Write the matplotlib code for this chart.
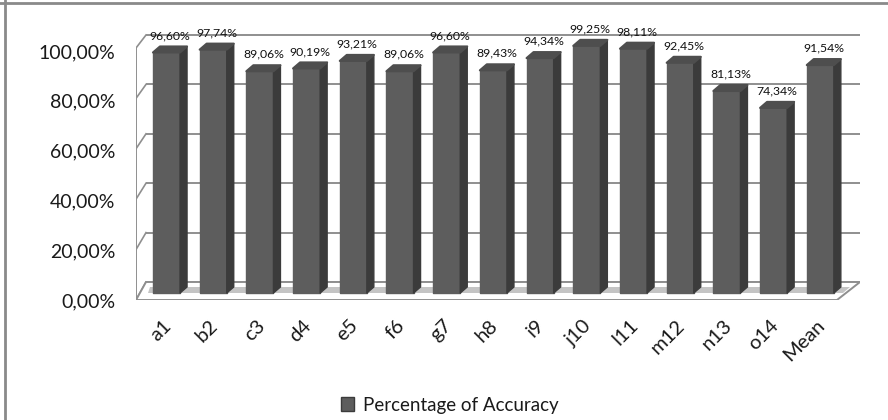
import matplotlib
matplotlib.use("Agg")
import matplotlib.pyplot as plt
from matplotlib.patches import Polygon, Patch
from matplotlib.lines import Line2D
from matplotlib.transforms import ScaledTranslation

plt.rcParams['font.family'] = ['Lato', 'DejaVu Sans']

categories = ['a1', 'b2', 'c3', 'd4', 'e5', 'f6', 'g7', 'h8', 'i9', 'j10',
              'l11', 'm12', 'n13', 'o14', 'Mean']
accuracy = [96.60, 97.74, 89.06, 90.19, 93.21, 89.06, 96.60, 89.43, 94.34,
            99.25, 98.11, 92.45, 81.13, 74.34, 91.54]
y_ticks = [0, 20, 40, 60, 80, 100]
series_name = 'Percentage of Accuracy'


def pct(v):
    return f"{v:.2f}".replace('.', ',') + '%'


W, H = 888, 420
fig = plt.figure(figsize=(W / 100, H / 100), dpi=100)

# layout of the pseudo-3D box, in pixels (y measured from the top)
STEP = 46.7      # distance between bar centres
C0 = 166.5       # centre of the first bar
Y0 = 293         # baseline of the bar fronts
K = 2.49         # pixels per percentage point
FRONT_L, FRONT_R, FRONT_Y0, FRONT_K = 136, 837, 300, 2.52
BACK_L, BACK_R, BACK_Y0, BACK_K = 146, 860, 282, 2.47
AX_TOP = 30

ax = fig.add_axes([FRONT_L / W, 1 - FRONT_Y0 / H,
                   (BACK_R - FRONT_L) / W, (FRONT_Y0 - AX_TOP) / H])


def to_data(px, py):
    return ((px - C0) / STEP, (Y0 - py) / K)


ax.set_xlim(to_data(FRONT_L, 0)[0], to_data(BACK_R, 0)[0])
ax.set_ylim(to_data(0, FRONT_Y0)[1], to_data(0, AX_TOP)[1])
for s in ax.spines.values():
    s.set_visible(False)

grid_c = '#8f8f8f'

# floor
floor = [to_data(FRONT_L, FRONT_Y0), to_data(FRONT_R, FRONT_Y0),
         to_data(BACK_R, BACK_Y0), to_data(BACK_L, BACK_Y0)]
ax.add_patch(Polygon(floor, closed=True, facecolor='white', edgecolor=grid_c,
                     lw=1.4, zorder=1))
band = [to_data(148, 293), to_data(843, 293), to_data(850, 287), to_data(150, 287)]
ax.add_patch(Polygon(band, closed=True, facecolor='#c4c4c4', edgecolor='none',
                     zorder=1.2))

# walls and gridlines
for v in y_ticks:
    yb = BACK_Y0 - BACK_K * v
    yf = FRONT_Y0 - FRONT_K * v
    xs, ys = zip(to_data(BACK_L, yb), to_data(BACK_R, yb))
    ax.plot(xs, ys, color=grid_c, lw=1.4, zorder=0.5, solid_capstyle='butt')
    xs, ys = zip(to_data(FRONT_L, yf), to_data(BACK_L, yb))
    ax.plot(xs, ys, color=grid_c, lw=1.2, zorder=0.5)
xs, ys = zip(to_data(FRONT_L, FRONT_Y0), to_data(FRONT_L, FRONT_Y0 - FRONT_K * 100))
ax.plot(xs, ys, color=grid_c, lw=1.4, zorder=0.6)

# bars: front face, side face, top face
front_c, side_c, top_c = '#5d5d5d', '#3b3b3b', '#4e4e4e'
bw = 0.58
dx, dy = 7 / STEP, 6 / K
xpos = list(range(len(categories)))
bars = ax.bar(xpos, accuracy, width=bw, color=front_c, edgecolor=front_c,
              lw=1.0, zorder=3)
for b in bars:
    b.set_joinstyle('round')
for x, v in zip(xpos, accuracy):
    r = x + bw / 2
    l = x - bw / 2
    side = [(r, 0), (r + dx, dy), (r + dx, v + dy), (r, v)]
    top = [(l, v), (r, v), (r + dx, v + dy), (l + dx, v + dy)]
    ax.add_patch(Polygon(side, closed=True, facecolor=side_c, edgecolor=side_c,
                         lw=1.0, joinstyle='round', zorder=3))
    ax.add_patch(Polygon(top, closed=True, facecolor=top_c, edgecolor=top_c,
                         lw=1.5, joinstyle='round', zorder=3.1))
    ax.text(x + dx / 2, v + dy + 11 / K, pct(v), ha='center', va='center',
            fontsize=8.8, color='#111111', zorder=4)

# axis labels
ax.set_yticks(y_ticks)
ax.set_yticklabels([pct(v) for v in y_ticks])
ax.tick_params(axis='y', length=0, pad=15, labelsize=14, labelcolor='#1a1a1a')
shift = ScaledTranslation(0, -7 / 100, fig.dpi_scale_trans)
for lab in ax.get_yticklabels():
    lab.set_transform(lab.get_transform() + shift)

ax.set_xticks(xpos)
ax.set_xticklabels(categories, rotation=45, ha='right', rotation_mode='anchor')
ax.tick_params(axis='x', length=0, pad=12, labelsize=14.5, labelcolor='#1a1a1a')
xshift = ScaledTranslation(-4 / 100, 0, fig.dpi_scale_trans)
for lab in ax.get_xticklabels():
    lab.set_transform(lab.get_transform() + xshift)

# legend
fig.legend(handles=[Patch(facecolor=front_c, edgecolor=side_c, lw=1.0)],
           labels=[series_name], loc='center', bbox_to_anchor=(450 / W, 1 - 405 / H),
           frameon=False, fontsize=13.5, handlelength=0.7, handleheight=0.7,
           handletextpad=0.5, labelcolor='#1a1a1a')

# chart-area border
fig.add_artist(Line2D([0, 1], [1 - 3 / H] * 2, transform=fig.transFigure,
                      color='#8a8a8a', lw=2))
fig.add_artist(Line2D([5 / W] * 2, [0, 1], transform=fig.transFigure,
                      color='#8a8a8a', lw=2))

fig.savefig('out.png', dpi=100, facecolor='white')
